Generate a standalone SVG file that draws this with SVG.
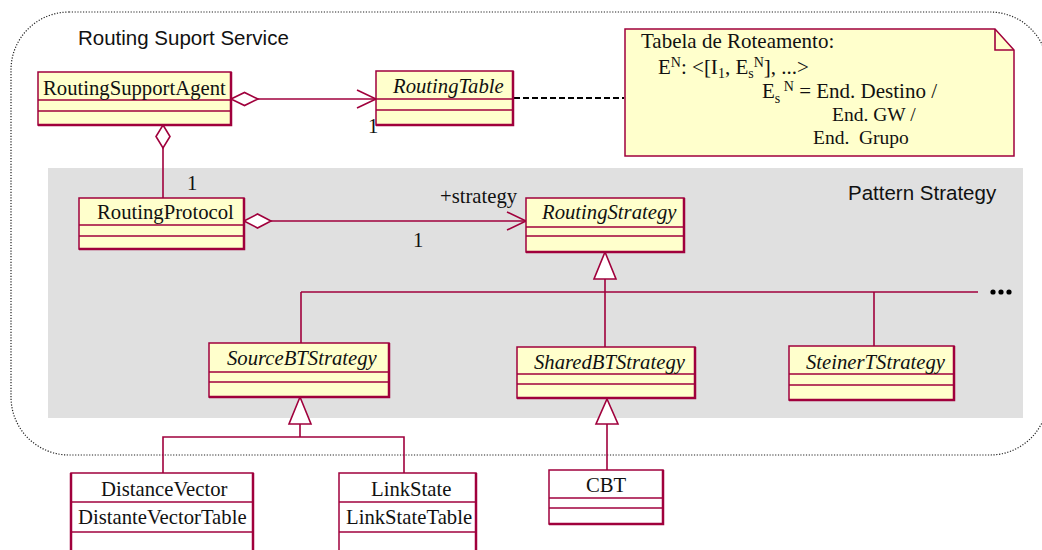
<svg xmlns="http://www.w3.org/2000/svg" width="1042" height="550" viewBox="0 0 1042 550">
<style>
.bg{fill:#ffffff}
.pkg{fill:none;stroke:#222;stroke-width:1.2;stroke-dasharray:1.2,1.6}
.zone{fill:#e0e0e0}
.cls{fill:#ffffcc;stroke:#a0003c;stroke-width:1.5}
.clsw{fill:#ffffff;stroke:#a0003c;stroke-width:1.5}
.shadow{fill:none;stroke:#a0003c;stroke-width:2.5}
.div{stroke:#a0003c;stroke-width:1.5}
.ln{fill:none;stroke:#a0003c;stroke-width:1.6}
.dia{fill:#ffffff;stroke:#a0003c;stroke-width:1.6}
.tri{fill:#ffffff;stroke:#a0003c;stroke-width:1.6}
.t{font-family:"Liberation Serif","Times New Roman",serif;font-size:20.7px;fill:#111}
.ti{font-family:"Liberation Serif","Times New Roman",serif;font-size:20.7px;font-style:italic;fill:#111}
.s{font-family:"Liberation Sans",Arial,sans-serif;font-size:20.5px;fill:#111}
.n{font-family:"Liberation Serif","Times New Roman",serif;font-size:21px;fill:#111}
.n2{font-family:"Liberation Serif","Times New Roman",serif;font-size:19.5px;fill:#111}
.sm{font-size:14px}
</style>
<rect class="bg" x="0" y="0" width="1042" height="550"/>
<rect class="pkg" x="11" y="12" width="1037" height="443" rx="58" ry="58"/>
<text class="s" x="78" y="45">Routing Suport Service</text>
<rect class="zone" x="48" y="168" width="975" height="250"/>
<text class="s" x="848" y="200">Pattern Strategy</text>

<g id="connectors">
  <line class="ln" x1="258" y1="99" x2="376" y2="99"/>
  <polygon class="dia" points="231,99 244.5,92.5 258,99 244.5,105.5"/>
  <polyline class="ln" points="357,90 376,99 357,108"/>
  <text class="t" x="368" y="133">1</text>
  <line x1="514" y1="98" x2="624" y2="98" stroke="#000" stroke-width="2.2" stroke-dasharray="6,3"/>
  <line class="ln" x1="163" y1="148" x2="163" y2="198"/>
  <polygon class="dia" points="163,125 170,136.5 163,148 156,136.5"/>
  <text class="t" x="187" y="190">1</text>
  <line class="ln" x1="271" y1="221" x2="526" y2="221"/>
  <polygon class="dia" points="244,221 257.5,214 271,221 257.5,228"/>
  <polyline class="ln" points="507,212 526,221 507,230"/>
  <text class="t" x="440" y="203">+strategy</text>
  <text class="t" x="413" y="247">1</text>
  <line class="ln" x1="605" y1="279" x2="605" y2="347"/>
  <polygon class="tri" points="605,252 616,279 594,279"/>
  <line class="ln" x1="301" y1="292" x2="978" y2="292"/>
  <line class="ln" x1="301" y1="292" x2="301" y2="343"/>
  <line class="ln" x1="874" y1="292" x2="874" y2="346"/>
  <circle cx="993" cy="292" r="2.6" fill="#000"/>
  <circle cx="1001" cy="292" r="2.6" fill="#000"/>
  <circle cx="1009" cy="292" r="2.6" fill="#000"/>
  <polygon class="tri" points="300,397 311,424 289,424"/>
  <line class="ln" x1="300" y1="424" x2="300" y2="437"/>
  <polyline class="ln" points="163,473 163,437 404,437 404,473"/>
  <polygon class="tri" points="607,399 618,424 596,424"/>
  <line class="ln" x1="607" y1="424" x2="607" y2="470"/>
</g>

<g id="RoutingSupportAgent">
  <rect class="cls" x="38" y="72" width="193" height="53"/>
  <polyline class="shadow" points="231,72 231,125 38,125"/>
  <line class="div" x1="38" y1="100" x2="231" y2="100"/>
  <line class="div" x1="38" y1="111" x2="231" y2="111"/>
  <text class="t" x="43" y="95">RoutingSupportAgent</text>
</g>

<g id="RoutingTable">
  <rect class="cls" x="376" y="71" width="137" height="54"/>
  <polyline class="shadow" points="513,71 513,125 376,125"/>
  <line class="div" x1="376" y1="99" x2="513" y2="99"/>
  <line class="div" x1="376" y1="110" x2="513" y2="110"/>
  <text class="ti" x="393" y="93">RoutingTable</text>
</g>

<g id="note">
  <path class="cls" d="M625,29 L995,29 L1014,50 L1014,156 L625,156 Z"/>
  <path class="ln" d="M995,29 L995,50 L1014,50"/>
  <text class="n" x="641" y="48">Tabela de Roteamento:</text>
  <text class="n" x="658" y="74">E<tspan class="sm" dy="-7">N</tspan><tspan dy="7">: &lt;[I</tspan><tspan class="sm" dy="4">1</tspan><tspan dy="-4">, E</tspan><tspan class="sm" dy="4">s</tspan><tspan class="sm" dy="-11">N</tspan><tspan dy="7">], ...&gt;</tspan></text>
  <text class="n" x="762" y="98">E<tspan class="sm" dy="5">s</tspan><tspan class="sm" dy="-12"> N</tspan><tspan dy="7"> = End. Destino /</tspan></text>
  <text class="n2" x="832" y="121">End. GW /</text>
  <text class="n2" x="813" y="144" xml:space="preserve">End.  Grupo</text>
</g>

<g id="RoutingProtocol">
  <rect class="cls" x="79" y="198" width="165" height="51"/>
  <polyline class="shadow" points="244,198 244,249 79,249"/>
  <line class="div" x1="79" y1="225" x2="244" y2="225"/>
  <line class="div" x1="79" y1="236" x2="244" y2="236"/>
  <text class="t" x="97" y="219">RoutingProtocol</text>
</g>

<g id="RoutingStrategy">
  <rect class="cls" x="526" y="198" width="158" height="54"/>
  <polyline class="shadow" points="684,198 684,252 526,252"/>
  <line class="div" x1="526" y1="227" x2="684" y2="227"/>
  <line class="div" x1="526" y1="236" x2="684" y2="236"/>
  <text class="ti" x="542" y="219">RoutingStrategy</text>
</g>

<g id="SourceBTStrategy">
  <rect class="cls" x="209" y="343" width="180" height="54"/>
  <polyline class="shadow" points="389,343 389,397 209,397"/>
  <line class="div" x1="209" y1="372" x2="389" y2="372"/>
  <line class="div" x1="209" y1="382" x2="389" y2="382"/>
  <text class="ti" x="227" y="365">SourceBTStrategy</text>
</g>

<g id="SharedBTStrategy">
  <rect class="cls" x="517" y="347" width="178" height="51"/>
  <polyline class="shadow" points="695,347 695,398 517,398"/>
  <line class="div" x1="517" y1="374" x2="695" y2="374"/>
  <line class="div" x1="517" y1="384" x2="695" y2="384"/>
  <text class="ti" x="534" y="369">SharedBTStrategy</text>
</g>

<g id="SteinerTStrategy">
  <rect class="cls" x="789" y="346" width="165" height="54"/>
  <polyline class="shadow" points="954,346 954,400 789,400"/>
  <line class="div" x1="789" y1="374" x2="954" y2="374"/>
  <line class="div" x1="789" y1="385" x2="954" y2="385"/>
  <text class="ti" x="806" y="369">SteinerTStrategy</text>
</g>

<g id="DistanceVector">
  <rect class="clsw" x="71" y="473" width="182" height="90"/>
  <line class="shadow" x1="253" y1="473" x2="253" y2="552"/>
  <line class="shadow" x1="71" y1="473" x2="71" y2="552"/>
  <line class="div" x1="71" y1="502" x2="253" y2="502"/>
  <line class="div" x1="71" y1="532" x2="253" y2="532"/>
  <text class="t" x="101" y="496">DistanceVector</text>
  <text class="t" x="78" y="524">DistanteVectorTable</text>
</g>

<g id="LinkState">
  <rect class="clsw" x="339" y="473" width="137" height="90"/>
  <line class="shadow" x1="476" y1="473" x2="476" y2="552"/>
  <line class="div" x1="339" y1="502" x2="476" y2="502"/>
  <line class="div" x1="339" y1="532" x2="476" y2="532"/>
  <text class="t" x="371" y="496">LinkState</text>
  <text class="t" x="346" y="524">LinkStateTable</text>
</g>

<g id="CBT">
  <rect class="clsw" x="549" y="470" width="114" height="54"/>
  <polyline class="shadow" points="663,470 663,524 549,524"/>
  <line class="div" x1="549" y1="498" x2="663" y2="498"/>
  <line class="div" x1="549" y1="508" x2="663" y2="508"/>
  <text class="t" x="606" y="492" text-anchor="middle">CBT</text>
</g>
</svg>
